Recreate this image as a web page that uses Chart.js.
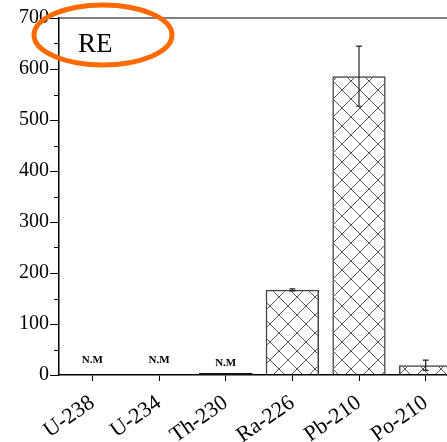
<!DOCTYPE html>
<html>
<head>
<meta charset="utf-8">
<script src="https://cdn.jsdelivr.net/npm/chart.js@4"></script>
<style>
  html, body { margin: 0; padding: 0; overflow: hidden; background: #fff; }
</style>
</head>
<body>
<canvas id="myChart" width="459" height="442"></canvas>
<script>
const nuclides = ["U-238", "U-234", "Th-230", "Ra-226", "Pb-210", "Po-210"];
const activity = [null, null, 3, 167, 586, 19];
const errors = [0, 0, 0, 2, 59, 10];
const notes = ["N.M", "N.M", "N.M", "", "", ""];
const yTicks = [0, 100, 200, 300, 400, 500, 600, 700];

const serif = '"Liberation Serif", "Times New Roman", serif';

// cross hatch fill
function hatch() {
  const n = 18;
  const p = document.createElement("canvas");
  p.width = n;
  p.height = n;
  const c = p.getContext("2d");
  c.strokeStyle = "#555";
  c.lineWidth = 1;
  c.beginPath();
  c.moveTo(0, 0); c.lineTo(n, n);
  c.moveTo(n, 0); c.lineTo(0, n);
  c.stroke();
  return c.createPattern(p, "repeat");
}

const extras = {
  id: "extras",
  afterDatasetsDraw(chart) {
    const ctx = chart.ctx;
    const y = chart.scales.y;
    const area = chart.chartArea;
    const meta = chart.getDatasetMeta(0);
    ctx.save();
    // minor ticks
    ctx.strokeStyle = "#000";
    ctx.lineWidth = 1;
    for (let v = 50; v < 700; v += 100) {
      const py = Math.round(y.getPixelForValue(v)) + 0.5;
      ctx.beginPath();
      ctx.moveTo(area.left - 5, py);
      ctx.lineTo(area.left, py);
      ctx.stroke();
    }
    // top frame line
    ctx.strokeStyle = "#555";
    ctx.lineWidth = 1.5;
    ctx.beginPath();
    ctx.moveTo(area.left, area.top);
    ctx.lineTo(area.right, area.top);
    ctx.stroke();
    // error bars
    ctx.strokeStyle = "#222";
    ctx.lineWidth = 1.2;
    activity.forEach((v, i) => {
      if (v == null || !errors[i]) return;
      const x = meta.data[i].x;
      const top = y.getPixelForValue(v + errors[i]);
      const bot = y.getPixelForValue(v - errors[i]);
      ctx.beginPath();
      ctx.moveTo(x, top); ctx.lineTo(x, bot);
      ctx.moveTo(x - 3, top); ctx.lineTo(x + 3, top);
      ctx.moveTo(x - 3, bot); ctx.lineTo(x + 3, bot);
      ctx.stroke();
    });
    // Th-230 trace
    ctx.strokeStyle = "#111";
    ctx.lineWidth = 2;
    activity.forEach((v, i) => {
      if (v == null || v > 10) return;
      const b = meta.data[i];
      ctx.beginPath();
      ctx.moveTo(b.x - b.width / 2, area.bottom - 1);
      ctx.lineTo(b.x + b.width / 2, area.bottom - 1);
      ctx.stroke();
    });
    // N.M notes
    ctx.fillStyle = "#000";
    ctx.font = "bold 11px " + serif;
    ctx.textAlign = "center";
    ctx.textBaseline = "middle";
    notes.forEach((t, i) => {
      if (!t) return;
      const x = chart.scales.x.getPixelForValue(i);
      ctx.fillText(t, x, activity[i] == null ? 360 : 363);
    });
    // RE label with orange ring
    ctx.font = "27px " + serif;
    ctx.textAlign = "left";
    ctx.textBaseline = "alphabetic";
    ctx.fillText("RE", 78, 52);
    ctx.strokeStyle = "#ff6a00";
    ctx.lineWidth = 5;
    ctx.beginPath();
    ctx.ellipse(103, 35, 69, 30, 0, 0, Math.PI * 2);
    ctx.stroke();
    ctx.restore();
  },
};

new Chart(document.getElementById("myChart"), {
  type: "bar",
  data: {
    labels: nuclides,
    datasets: [
      {
        data: activity,
        backgroundColor: hatch(),
        borderColor: "#444",
        borderWidth: 1.5,
        barPercentage: 0.8,
        categoryPercentage: 1,
      },
    ],
  },
  options: {
    responsive: false,
    animation: false,
    layout: { padding: { top: 18, left: 0, right: 0, bottom: 0 } },
    scales: {
      x: {
        grid: { drawOnChartArea: false, offset: false, tickLength: 6, tickColor: "#000" },
        border: { color: "#000", width: 1.5 },
        ticks: {
          color: "#000",
          font: { family: serif, size: 22 },
          maxRotation: 35,
          minRotation: 35,
          autoSkip: false,
          padding: 9,
        },
        afterFit(s) { s.height = 67; },
      },
      y: {
        min: 0,
        max: 700,
        grid: {
          drawOnChartArea: false,
          tickLength: 9,
          tickColor: (c) => (c.tick && yTicks.includes(c.tick.value) ? "#000" : "transparent"),
        },
        border: { color: "#000", width: 1.5 },
        ticks: {
          stepSize: 100,
          color: "#000",
          padding: 1,
          font: { family: serif, size: 20 },
        },
        afterFit(s) { s.width = 59; },
      },
    },
    plugins: {
      legend: { display: false },
      tooltip: { enabled: false },
    },
  },
  plugins: [extras],
});
</script>
</body>
</html>
